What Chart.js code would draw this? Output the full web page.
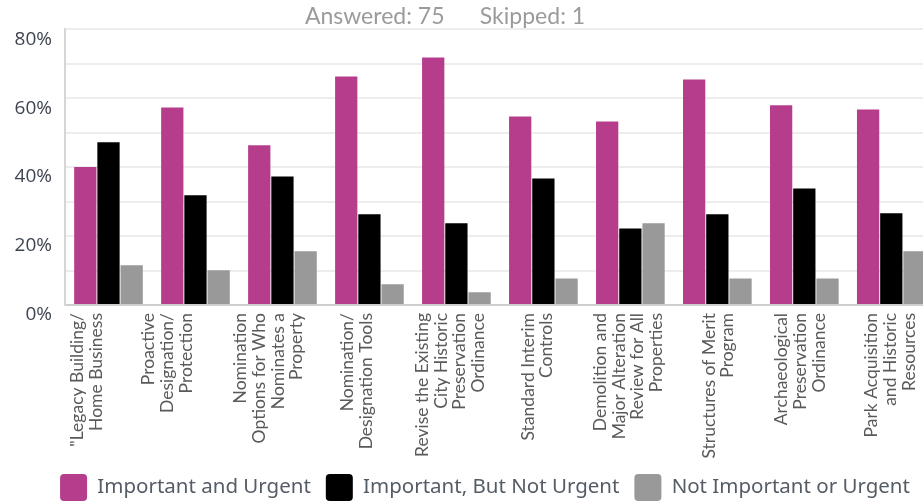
<!DOCTYPE html>
<html>
<head>
<meta charset="utf-8">
<script src="https://cdn.jsdelivr.net/npm/chart.js@4/dist/chart.umd.min.js"></script>
<style>
  html, body { margin: 0; padding: 0; background: #ffffff; width: 923px; height: 504px; overflow: hidden; }
  #wrap { position: absolute; left: 0; top: 0; width: 956px; height: 511px; }
</style>
</head>
<body>
<div id="wrap"><canvas id="chart"></canvas></div>
<script>
// Survey options (wrapped onto several lines for the rotated axis labels)
const categories = [
  ['"Legacy Building/', 'Home Business'],
  ['Proactive', 'Designation/', 'Protection'],
  ['Nomination', 'Options for Who', 'Nominates a', 'Property'],
  ['Nomination/', 'Designation Tools'],
  ['Revise the Existing', 'City Historic', 'Preservation', 'Ordinance'],
  ['Standard Interim', 'Controls'],
  ['Demolition and', 'Major Alteration', 'Review for All', 'Properties'],
  ['Structures of Merit', 'Program'],
  ['Archaeological', 'Preservation', 'Ordinance'],
  ['Park Acquisition', 'and Historic', 'Resources']
];

const seriesNames = ['Important and Urgent', 'Important, But Not Urgent', 'Not Important or Urgent'];

// Share of respondents (%)
const importantUrgent    = [40.0, 57.3, 46.3, 66.3, 71.8, 54.7, 53.2, 65.4, 57.9, 56.7];
const importantNotUrgent = [47.2, 31.8, 37.3, 26.3, 23.7, 36.7, 22.2, 26.3, 33.8, 26.6];
const notImportant       = [11.5, 10.1, 15.6,  6.0,  3.7,  7.7, 23.7,  7.7,  7.7, 15.6];

const yTicks = [0, 20, 40, 60, 80];
const headerText = 'Answered: 75      Skipped: 1';

const colors = ['#b53d8c', '#000000', '#999999'];
const xFontSize = 17.5;
const xLineHeight = 1.08;
// Sideways shift (px) of each wrapped label block relative to its category centre
const labelShift = [-22, -28, -14, -13, -6, -6, -2, 1, -4, -1];

// Centre each wrapped, rotated label on its category instead of starting at it
const centerWrappedLabels = {
  id: 'centerWrappedLabels',
  beforeDraw(chart) {
    const scale = chart.scales.x;
    const lh = xFontSize * xLineHeight;
    scale.getLabelItems().forEach((item, i) => {
      if (item._centered) return;
      const n = Array.isArray(item.label) ? item.label.length : 1;
      item.options.translation[0] += -(n - 1) * lh / 2 + (labelShift[i] || 0);
      item._centered = true;
    });
  }
};

// Horizontal placement of the header line and the legend row
const nudgeBlocks = {
  id: 'nudgeBlocks',
  afterLayout(chart) {
    const t = chart.titleBlock, l = chart.legend;
    t.left -= 33; t.right -= 33;
    l.left += 7; l.right += 7;
  }
};

new Chart(document.getElementById('chart'), {
  type: 'bar',
  data: {
    labels: categories,
    datasets: [
      { label: seriesNames[0], data: importantUrgent, backgroundColor: colors[0] },
      { label: seriesNames[1], data: importantNotUrgent, backgroundColor: colors[1] },
      { label: seriesNames[2], data: notImportant, backgroundColor: colors[2] }
    ]
  },
  options: {
    responsive: true,
    maintainAspectRatio: false,
    animation: false,
    datasets: { bar: { categoryPercentage: 0.8, barPercentage: 0.96 } },
    layout: { padding: 0 },
    plugins: {
      title: {
        display: true,
        text: headerText,
        color: '#9b9b9b',
        font: { family: 'Lato', size: 23, weight: 'normal', lineHeight: 1.05 },
        padding: { top: 5, bottom: 0 }
      },
      legend: {
        position: 'bottom',
        align: 'center',
        labels: {
          boxWidth: 27,
          boxHeight: 27,
          padding: 15,
          color: '#545c66',
          font: { family: 'Noto Sans', size: 20.5 },
          useBorderRadius: true,
          borderRadius: 4
        }
      },
      tooltip: { enabled: false }
    },
    scales: {
      x: {
        grid: { display: false, drawTicks: false },
        border: { display: true, color: '#cfcfcf', width: 2 },
        ticks: {
          autoSkip: false,
          minRotation: 90,
          maxRotation: 90,
          padding: 8,
          color: '#5a5a5a',
          font: { family: 'Lato', size: xFontSize, lineHeight: xLineHeight }
        },
        afterFit(scale) { scale.height = 154; }
      },
      y: {
        min: 0,
        max: 80,
        grid: { color: '#ededed', lineWidth: 2, drawTicks: false },
        border: { display: true, color: '#d6d6d6', width: 2 },
        ticks: {
          stepSize: 10,
          padding: 13,
          labelOffset: 10,
          color: '#3d4450',
          font: { family: 'Open Sans', size: 19 },
          callback: v => yTicks.includes(v) ? v + '%' : ''
        },
        afterFit(scale) { scale.width = 65; }
      }
    }
  },
  plugins: [centerWrappedLabels, nudgeBlocks]
});
</script>
</body>
</html>
